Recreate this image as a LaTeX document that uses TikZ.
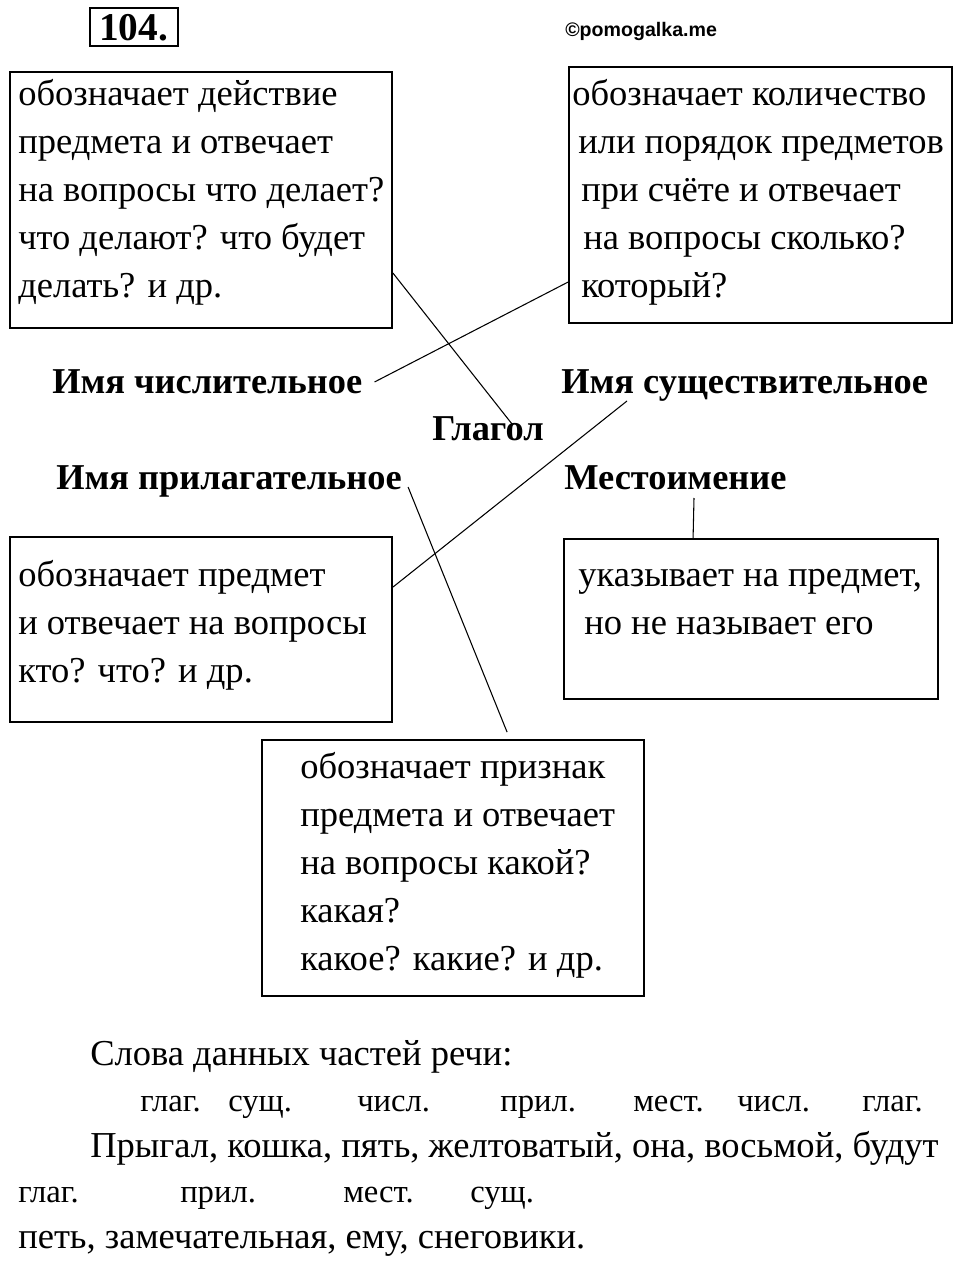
\documentclass[tikz,border=0pt]{standalone}
\usepackage{fontspec}
\setmainfont{Liberation Serif}
\newfontfamily\sansb{Liberation Sans}
\usetikzlibrary{calc}
\newcommand\bx[5]{\node[box, minimum width={(#4-#2)*0.75pt}, minimum height={(#5-#3)*0.75pt}] (#1) at ({(#2+#4)/2},{(#3+#5)/2}) {};}
\begin{document}
\begin{tikzpicture}[x=0.75pt,y=-0.75pt,
  box/.style={draw, line width=1.4pt, inner sep=0pt},
  txt/.style={anchor=base west, inner sep=0pt, font=\fontsize{27.4}{27.4}\selectfont},
  lbl/.style={anchor=base west, inner sep=0pt, font=\fontsize{27.3}{27.3}\selectfont\bfseries},
  sml/.style={anchor=base west, inner sep=0pt, font=\fontsize{24.5}{24.5}\selectfont},
  conn/.style={line width=0.8pt}]
\useasboundingbox[fill=white] (0,0) rectangle (960,1262);
% header
\bx{numbox}{90}{8}{178}{46}
\node[anchor=base west, inner sep=0pt, font=\fontsize{29.5}{29.5}\selectfont\bfseries] (num) at (99,41) {104.};
\node[anchor=base west, inner sep=0pt, font=\fontsize{14.7}{14.7}\selectfont\sansb\bfseries] (site) at (565,37) {©pomogalka.me};
% boxes
\bx{bA}{10}{72}{392}{328}
\bx{bB}{569}{67}{952}{323}
\bx{bC}{10}{537}{392}{722}
\bx{bD}{564}{539}{938}{699}
\bx{bE}{262}{740}{644}{996}
% box A text
\node[txt] (a1) at (18,106) {обозначает действие};
\node[txt] (a2) at (18,154) {предмета и отвечает};
\node[txt] (a3) at (18,202) {на вопросы что делает?};
\node[txt] (a4) at (18,250) {что делают? что будет};
\node[txt] (a5) at (18,298) {делать? и др.};
% box B text
\node[txt] (b1) at (572,106) {обозначает количество};
\node[txt] (b2) at (578,154) {или порядок предметов};
\node[txt] (b3) at (581,202) {при счёте и отвечает};
\node[txt] (b4) at (583,250) {на вопросы сколько?};
\node[txt] (b5) at (581,298) {который?};
% box C text
\node[txt] (c1) at (18,586) {обозначает предмет};
\node[txt] (c2) at (18,634) {и отвечает на вопросы};
\node[txt] (c3) at (18,682) {кто? что? и др.};
% box D text
\node[txt] (d1) at (578,586) {указывает на предмет,};
\node[txt] (d2) at (584,634) {но не называет его};
% box E text
\node[txt] (e1) at (300,778) {обозначает признак};
\node[txt] (e2) at (300,826) {предмета и отвечает};
\node[txt] (e3) at (300,874) {на вопросы какой?};
\node[txt] (e4) at (300,922) {какая?};
\node[txt] (e5) at (300,970) {какое? какие? и др.};
% labels
\node[lbl] (chisl) at (52,393) {Имя числительное};
\node[lbl] (sush) at (561,393) {Имя существительное};
\node[lbl] (glag) at (432,440) {Глагол};
\node[lbl] (pril) at (56,489) {Имя прилагательное};
\node[lbl] (mest) at (564,489) {Местоимение};
% connectors
\coordinate (gtop) at ($(glag.base west)+(80,-16)$);
\draw[conn] ($(bA.north east)+(0,202)$) -- (gtop);
\draw[conn] ($(bB.north west)+(0,216)$) -- ($(chisl.base east)+(12,-11)$);
\draw[conn] ($(sush.base west)+(66,8)$) -- ($(bC.north east)+(0,51)$);
\coordinate (etop) at ($(bE.north west)+(246,-7)$);
\draw[conn] ($(pril.base east)+(6,-2)$) -- (etop);
\draw[conn] ($(mest.base west)+(130,9)$) -- ($(bD.north west)+(130,0)$);
% bottom text
\node[txt] (w0) at (90,1065) {Слова данных частей речи:};
\node[sml] (s1) at (140,1111) {глаг.};
\node[sml] (s2) at (228,1111) {сущ.};
\node[sml] (s3) at (357,1111) {числ.};
\node[sml] (s4) at (500,1111) {прил.};
\node[sml] (s5) at (633,1111) {мест.};
\node[sml] (s6) at (737,1111) {числ.};
\node[sml] (s7) at (862,1111) {глаг.};
\node[txt] (w1) at (90,1157) {Прыгал, кошка, пять, желтоватый, она, восьмой, будут};
\node[sml] (t1) at (18,1202) {глаг.};
\node[sml] (t2) at (180,1202) {прил.};
\node[sml] (t3) at (343,1202) {мест.};
\node[sml] (t4) at (470,1202) {сущ.};
\node[txt] (w2) at (18,1248) {петь, замечательная, ему, снеговики.};
\end{tikzpicture}
\end{document}
